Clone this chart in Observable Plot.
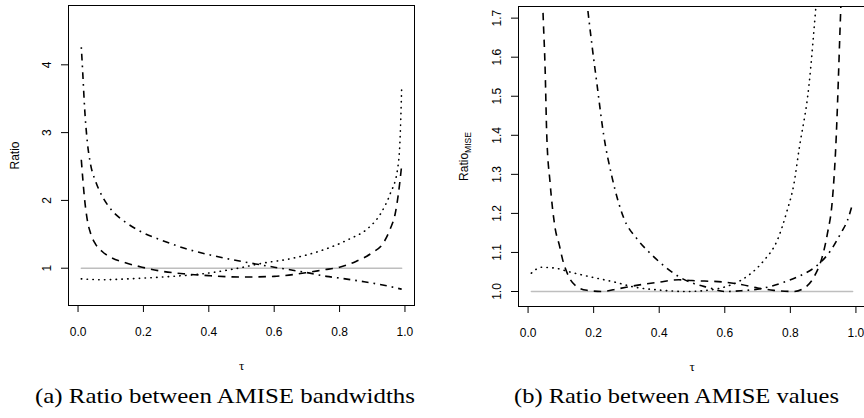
<!DOCTYPE html>
<html><head><meta charset="utf-8">
<script src="https://cdn.jsdelivr.net/npm/d3@7"></script>
<script src="https://cdn.jsdelivr.net/npm/@observablehq/plot@0.6"></script>
<style>
html,body{margin:0;padding:0;background:#fff;}
#wrap{position:relative;width:864px;height:418px;overflow:hidden;background:#fff;}
#wrap svg{position:absolute;top:0;}
</style></head><body><div id="wrap"></div>
<script>
// ---------- data ----------
const tauTicks = [0, 0.2, 0.4, 0.6, 0.8, 1.0];
const ratioTicksA = [1, 2, 3, 4];
const ratioTicksB = [1.0, 1.1, 1.2, 1.3, 1.4, 1.5, 1.6, 1.7];
const captions = ["(a) Ratio between AMISE bandwidths", "(b) Ratio between AMISE values"];
const yLabels = ["Ratio", "Ratio"];
const yLabelSub = "MISE";
const xLabel = "τ";
const refTau = [0.01, 0.99];
const refValue = [1, 1];

// panel (a): ratio between AMISE bandwidths
const aDashedTau = [0.01, 0.015, 0.02, 0.028, 0.038, 0.053, 0.073, 0.10, 0.145, 0.196, 0.257, 0.33, 0.40, 0.50, 0.60, 0.70, 0.75, 0.80, 0.85, 0.90, 0.935, 0.955, 0.97, 0.98, 0.99];
const aDashedVal = [2.60, 2.29, 2.02, 1.72, 1.52, 1.36, 1.25, 1.16, 1.08, 1.015, 0.955, 0.915, 0.89, 0.87, 0.88, 0.935, 0.975, 1.015, 1.10, 1.23, 1.38, 1.58, 1.80, 2.10, 2.52];
const aDottedTau = [0.01, 0.07, 0.175, 0.28, 0.38, 0.45, 0.50, 0.56, 0.65, 0.75, 0.83, 0.885, 0.925, 0.955, 0.977, 0.985, 0.99];
const aDottedVal = [0.843, 0.83, 0.848, 0.877, 0.917, 0.966, 1.01, 1.07, 1.14, 1.27, 1.43, 1.58, 1.80, 2.10, 2.45, 2.90, 3.67];
const aDotDashTau = [0.01, 0.0145, 0.02, 0.028, 0.038, 0.053, 0.073, 0.104, 0.145, 0.196, 0.257, 0.328, 0.40, 0.456, 0.50, 0.60, 0.70, 0.76, 0.80, 0.875, 0.94, 0.99];
const aDotDashVal = [4.26, 3.87, 3.37, 2.88, 2.54, 2.29, 2.07, 1.85, 1.68, 1.53, 1.41, 1.29, 1.20, 1.14, 1.10, 1.015, 0.935, 0.88, 0.855, 0.80, 0.745, 0.69];

// panel (b): ratio between AMISE values
const bDashedTau = [0.01, 0.03, 0.045, 0.052, 0.057, 0.067, 0.083, 0.095, 0.105, 0.123, 0.148, 0.18, 0.224, 0.275, 0.326, 0.40, 0.46, 0.50, 0.60, 0.65, 0.70, 0.75, 0.81, 0.846, 0.877, 0.897, 0.913, 0.928, 0.938, 0.954, 0.97, 0.99];
const bDashedVal = [3.2, 2.3, 1.73, 1.57, 1.40, 1.28, 1.16, 1.12, 1.083, 1.04, 1.013, 1.003, 1.0, 1.007, 1.015, 1.024, 1.030, 1.028, 1.024, 1.018, 1.009, 1.003, 1.0, 1.011, 1.045, 1.088, 1.148, 1.233, 1.361, 1.73, 2.1, 2.7];
const bDottedTau = [0.01, 0.041, 0.081, 0.132, 0.193, 0.265, 0.326, 0.397, 0.48, 0.545, 0.597, 0.648, 0.678, 0.719, 0.76, 0.79, 0.811, 0.826, 0.857, 0.878, 0.9, 0.95, 0.99];
const bDottedVal = [1.047, 1.062, 1.060, 1.049, 1.037, 1.024, 1.011, 1.004, 1.0, 1.003, 1.011, 1.028, 1.045, 1.079, 1.131, 1.207, 1.276, 1.361, 1.53, 1.73, 1.96, 2.6, 3.5];
const bDotDashTau = [0.01, 0.05, 0.12, 0.16, 0.181, 0.195, 0.21, 0.23, 0.256, 0.291, 0.332, 0.37, 0.42, 0.464, 0.50, 0.55, 0.60, 0.65, 0.70, 0.73, 0.78, 0.831, 0.882, 0.923, 0.953, 0.974, 0.99];
const bDotDashVal = [5.0, 3.5, 2.3, 1.9, 1.73, 1.63, 1.532, 1.404, 1.293, 1.19, 1.135, 1.10, 1.062, 1.036, 1.022, 1.01, 1.0, 1.002, 1.006, 1.011, 1.024, 1.041, 1.067, 1.105, 1.148, 1.182, 1.225];

// ---------- drawing ----------
const STYLES = {
  dashed:  {strokeDasharray: "7.5,6", strokeLinecap: "butt"},
  dotted:  {strokeDasharray: "0.4,5.4", strokeLinecap: "round"},
  dotdash: {strokeDasharray: "1.7,5,6.8,5", strokeLinecap: "butt"}
};
const rows = (t, v) => t.map((d, i) => ({tau: d, value: v[i]}));
const sans = "'Liberation Sans', Arial, Helvetica, sans-serif";
const serif = "'Liberation Serif', 'Times New Roman', serif";

function panel(o) {
  const H = 380;
  const marks = [
    Plot.line(rows(refTau, refValue), {x: "tau", y: "value", stroke: "#bebebe", strokeWidth: 1.5}),
    ...o.series.map(s => Plot.line(rows(s.tau, s.value), {
      x: "tau", y: "value", stroke: "#000", strokeWidth: 1.6,
      ...STYLES[s.kind], curve: "monotone-x", clip: true
    })),
    Plot.frame({stroke: "#000", strokeWidth: 1}),
    Plot.axisX({ticks: tauTicks, tickSize: 7, tickPadding: 14.5, tickFormat: d3.format(".1f"), fontSize: 12, label: null}),
    Plot.axisY({ticks: o.yTicks, tickSize: 7, tickPadding: 11, tickRotate: -90, tickFormat: o.yFormat, fontSize: 12, label: null}),
    Plot.text([o.yLabel], {frameAnchor: "left", dx: o.labelDx, rotate: -90, fontSize: 12, textAnchor: "middle", lineAnchor: "middle"}),
    Plot.text([xLabel], {frameAnchor: "bottom", dy: 60, fontSize: 13, fontFamily: serif, lineAnchor: "middle"})
  ];
  return Plot.plot({
    width: o.w, height: H,
    marginLeft: o.ml, marginRight: o.mr, marginTop: o.mt, marginBottom: H - o.bottom,
    x: {domain: [-0.0292, 1.0292]},
    y: {domain: o.yDomain},
    style: {fontFamily: sans, fontSize: "12px", color: "#000", background: "transparent", overflow: "visible"},
    marks
  });
}

const wrap = document.getElementById("wrap");

const svgA = panel({
  w: 432, ml: 68, mr: 18, mt: 5, bottom: 305,
  yDomain: [0.45, 4.875], yTicks: ratioTicksA, yFormat: d3.format("d"),
  yLabel: yLabels[0], labelDx: -53,
  series: [
    {tau: aDashedTau, value: aDashedVal, kind: "dashed"},
    {tau: aDottedTau, value: aDottedVal, kind: "dotted"},
    {tau: aDotDashTau, value: aDotDashVal, kind: "dotdash"}
  ]
});
svgA.style.left = "0px";
wrap.appendChild(svgA);

const svgB = panel({
  w: 450, ml: 86, mr: 17, mt: 6, bottom: 306,
  yDomain: [0.9616, 1.7298], yTicks: ratioTicksB, yFormat: d3.format(".1f"),
  yLabel: yLabels[1], labelDx: -54,
  series: [
    {tau: bDashedTau, value: bDashedVal, kind: "dashed"},
    {tau: bDottedTau, value: bDottedVal, kind: "dotted"},
    {tau: bDotDashTau, value: bDotDashVal, kind: "dotdash"}
  ]
});
svgB.style.left = "432px";
wrap.appendChild(svgB);

// subscript on panel (b) y label
d3.select(svgB).selectAll("text").filter(function() { return this.textContent === yLabels[1] && this.childElementCount === 0; })
  .append("tspan").attr("dy", 3).attr("font-size", 8.5).text(yLabelSub);

// captions
const cap = d3.select(wrap).append("svg").attr("width", 864).attr("height", 418)
  .style("left", "0px").style("pointer-events", "none");
const capPos = [{x: 35, len: 380}, {x: 514, len: 325}];
captions.forEach((c, i) => {
  cap.append("text").attr("x", capPos[i].x).attr("y", 403)
    .attr("font-family", serif).attr("font-size", 22).attr("fill", "#000")
    .attr("textLength", capPos[i].len).attr("lengthAdjust", "spacingAndGlyphs")
    .text(c);
});
</script></body></html>
